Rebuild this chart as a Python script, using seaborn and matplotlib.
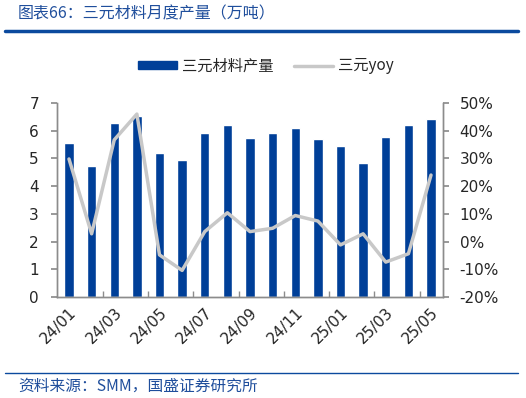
import matplotlib
matplotlib.use("Agg")
import matplotlib.pyplot as plt
import seaborn as sns
import pandas as pd
import numpy as np
from matplotlib.lines import Line2D

months = ["24/01", "24/02", "24/03", "24/04", "24/05", "24/06", "24/07", "24/08", "24/09",
          "24/10", "24/11", "24/12", "25/01", "25/02", "25/03", "25/04", "25/05"]
output = [5.54, 4.71, 6.28, 6.54, 5.20, 4.95, 5.90, 6.20, 5.74,
          5.90, 6.10, 5.71, 5.45, 4.83, 5.79, 6.22, 6.44]
yoy = [29.8, 2.8, 36.7, 46.0, -4.8, -10.4, 3.6, 10.4, 3.6,
       4.8, 9.4, 7.4, -1.2, 2.8, -7.4, -4.4, 24.0]
left_ticks = [0, 1, 2, 3, 4, 5, 6, 7]
right_ticks = [-20, -10, 0, 10, 20, 30, 40, 50]

sns.set_theme(style="white")
plt.rcParams['font.family'] = ['DejaVu Sans', 'Noto Sans CJK SC']

BLUE = "#003f98"
GREY = "#c8c8c8"
SPINE = "#8c8c8c"
TXT_BLUE = "#1f4e9c"
CJK = ['Noto Sans CJK SC', 'DejaVu Sans']

df = pd.DataFrame({"month": months, "output": output, "yoy": yoy,
                   "pos": np.arange(len(months))})

fig = plt.figure(figsize=(5.26, 3.98), dpi=100)
ax = fig.add_axes([57/526, 1-297/398, (443-57)/526, (297-103)/398])

sns.barplot(data=df, x="month", y="output", color=BLUE, width=0.41,
            saturation=1, ax=ax, zorder=2)
ax2 = ax.twinx()
sns.lineplot(data=df, x="pos", y="yoy", color=GREY, linewidth=2.5, ax=ax2, zorder=3)

ax.set_xlim(-0.53, 16.53)
ax.set_ylim(0, 7)
ax2.set_ylim(-20, 50)
ax.set_yticks(left_ticks)
ax.set_yticklabels([str(t) for t in left_ticks], fontsize=11)
ax2.set_yticks(right_ticks)
ax2.set_yticklabels([f"{t}%" for t in right_ticks], fontsize=11)

ax.set_xticks(np.arange(0, len(months), 2))
ax.set_xticklabels(months[::2], rotation=45, ha="right", rotation_mode="anchor",
                   fontsize=11)
ax.set_xticks(np.arange(1.5, len(months) - 1, 2), minor=True)
ax.tick_params(axis="x", which="major", length=0, pad=6)
ax.tick_params(axis="x", which="minor", direction="in", length=4, color=SPINE, bottom=True)
ax.tick_params(axis="y", direction="out", length=4, color=SPINE, left=True, pad=9)
ax2.tick_params(axis="y", direction="out", length=4, color=SPINE, right=True, pad=8)

for a in (ax, ax2):
    a.set_xlabel("")
    a.set_ylabel("")
    a.grid(False)
    a.spines["top"].set_visible(False)
    for s in ("left", "right", "bottom"):
        a.spines[s].set_color(SPINE)
        a.spines[s].set_linewidth(1.0)
ax2.set_xlim(-0.53, 16.53)

# legend
handles = [plt.Rectangle((0, 0), 1, 1, color=BLUE),
           Line2D([0], [0], color=GREY, linewidth=2.5)]
leg = fig.legend(handles, ["三元材料产量", "三元yoy"], loc="center",
                 bbox_to_anchor=(266/526, 1-66/398), ncol=2, frameon=False,
                 prop={"family": CJK, "size": 11}, handlelength=2.55,
                 handleheight=0.5, columnspacing=1.3, handletextpad=0.35)

# title and source
fig.text(18/526, 1-14/398, "图表66：三元材料月度产量（万吨）", fontsize=11.5,
         color=TXT_BLUE, family=CJK, style="italic", va="center", ha="left")
fig.add_artist(Line2D([5/526, 518/526], [1-31/398, 1-31/398], color="#0b4a9e",
                      linewidth=2.5, transform=fig.transFigure))
fig.add_artist(Line2D([5/526, 518/526], [1-373/398, 1-373/398], color="#0b4a9e",
                      linewidth=1.0, transform=fig.transFigure))
fig.text(18/526, 1-386/398, "资料来源：SMM，国盛证券研究所", fontsize=11.3,
         color=TXT_BLUE, family=CJK, style="italic", va="center", ha="left")

fig.savefig("out.png", dpi=100)
